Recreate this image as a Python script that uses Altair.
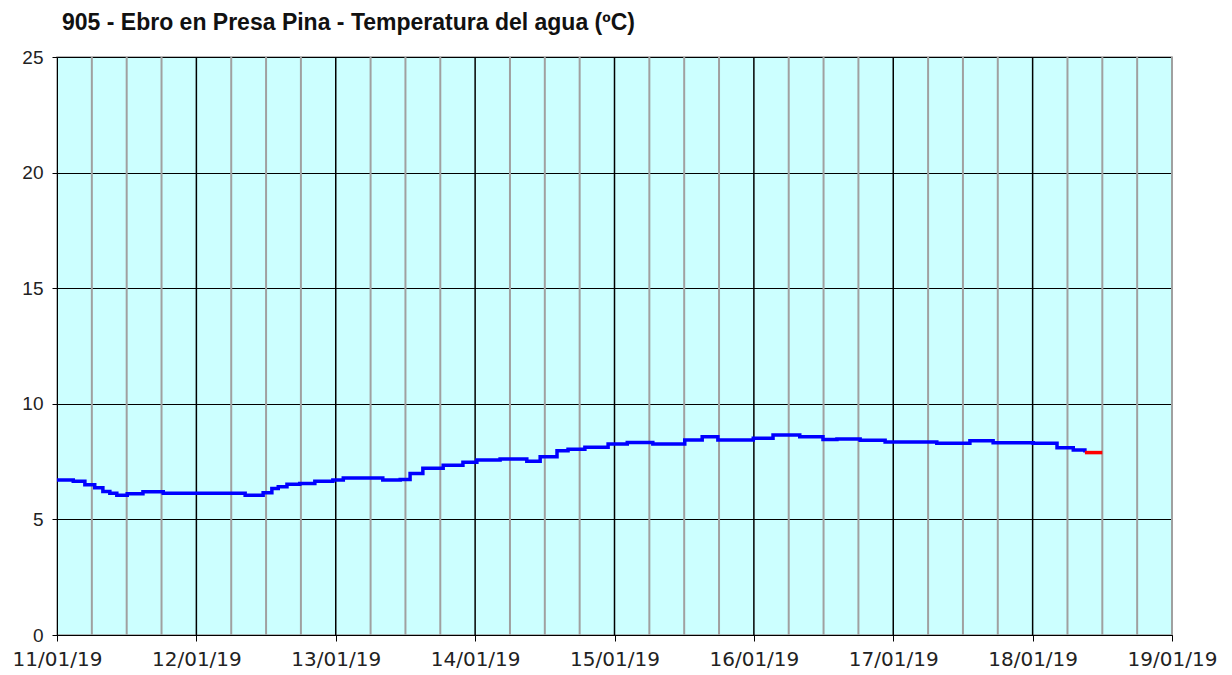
import altair as alt
import pandas as pd

# Water temperature series (hours since 11/01/19 00:00, degrees C)
hours = [0, 2.8, 4.8, 6.5, 7.9, 9.1, 10.3, 12.1, 14.8, 18.3,
         32.4, 35.5, 37.0, 38.1, 39.6, 41.8, 44.4, 47.5, 49.3, 56.1,
         59.1, 60.8, 63.0, 66.5, 69.9, 72.3, 76.3, 80.9, 83.2, 86.1,
         88.0, 90.9, 94.9, 98.2, 102.6, 108.1, 111.1, 113.8, 119.9, 123.3,
         127.9, 131.9, 134.3, 138.3, 142.6, 151.5, 157.2, 161.2, 168.1, 172.2,
         175.0, 177.0]
temps = [6.70, 6.65, 6.50, 6.37, 6.21, 6.13, 6.04, 6.11, 6.20, 6.13,
         6.04, 6.15, 6.34, 6.41, 6.52, 6.55, 6.65, 6.70, 6.79, 6.70,
         6.73, 6.99, 7.21, 7.34, 7.47, 7.57, 7.61, 7.51, 7.71, 7.97,
         8.03, 8.12, 8.26, 8.33, 8.26, 8.43, 8.58, 8.43, 8.51, 8.65,
         8.58, 8.46, 8.48, 8.42, 8.35, 8.29, 8.40, 8.32, 8.29, 8.10,
         8.00, 7.89]
# Provisional segment (red)
red_hours = [177.0, 180.0]
red_temps = [7.89, 7.89]

title_text = ["905 - Ebro en Presa Pina - Temperatura del agua (ºC)"]
day_labels = ["11/01/19", "12/01/19", "13/01/19", "14/01/19", "15/01/19",
              "16/01/19", "17/01/19", "18/01/19", "19/01/19"]
y_ticks = [0, 5, 10, 15, 20, 25]

day_ticks = [24 * i for i in range(len(day_labels))]
minor_ticks = [h for h in range(6, day_ticks[-1] + 1, 6) if h % 24 != 0 or h == day_ticks[-1]]
major_ticks = day_ticks[1:-1]

df_blue = pd.DataFrame({"h": hours, "v": temps})
df_red = pd.DataFrame({"h": red_hours, "v": red_temps})
df_minor = pd.DataFrame({"h": minor_ticks})
df_major = pd.DataFrame({"h": major_ticks})
df_title = pd.DataFrame({"t": title_text})

label_arr = "[" + ",".join("'%s'" % s for s in day_labels) + "]"

xscale = alt.Scale(domain=[day_ticks[0], day_ticks[-1]], nice=False, zero=False)
yscale = alt.Scale(domain=[0, 25], nice=False)

xaxis = alt.Axis(values=day_ticks, labelExpr=label_arr + "[round(datum.value/24)]",
                 grid=False, title=None, domainColor="black", tickColor="black",
                 tickSize=6, labelFont="DejaVu Sans", labelFontSize=20,
                 labelColor="#222222", labelPadding=8, labelFlush=False)
yaxis = alt.Axis(values=y_ticks, grid=True, gridColor="black", gridOpacity=1,
                 gridWidth=1, title=None, domainColor="black", tickColor="black",
                 tickSize=5, labelFont="Liberation Sans", labelFontSize=19,
                 labelColor="#222222", labelPadding=9)

minor = alt.Chart(df_minor).mark_rule(color="#a0a0a0", strokeWidth=2).encode(
    x=alt.X("h:Q", scale=xscale, axis=xaxis)
)
major = alt.Chart(df_major).mark_rule(color="black", strokeWidth=1.5).encode(
    x=alt.X("h:Q", scale=xscale)
)
blue = alt.Chart(df_blue).mark_line(color="#0000FF", strokeWidth=3.5,
                                    interpolate="step-after").encode(
    x=alt.X("h:Q", scale=xscale),
    y=alt.Y("v:Q", scale=yscale, axis=yaxis),
)
red = alt.Chart(df_red).mark_line(color="#FF0000", strokeWidth=3.5).encode(
    x=alt.X("h:Q", scale=xscale),
    y=alt.Y("v:Q", scale=yscale),
)
title = alt.Chart(df_title).mark_text(
    align="left", baseline="alphabetic", font="Liberation Sans", fontSize=23,
    fontWeight="bold", color="#111111"
).encode(x=alt.value(5), y=alt.value(-27), text="t:N")

chart = alt.layer(minor, major, blue, red, title).properties(
    width=1115, height=578,
    background="white",
    autosize=alt.AutoSizeParams(type="none"),
    padding={"left": 49, "top": 49, "right": 50, "bottom": 40},
).configure_view(
    fill="#CCFFFF", stroke="#a0a0a0", strokeWidth=1.5
)

chart.save("out.html", embed_options={"renderer": "svg", "actions": False})
